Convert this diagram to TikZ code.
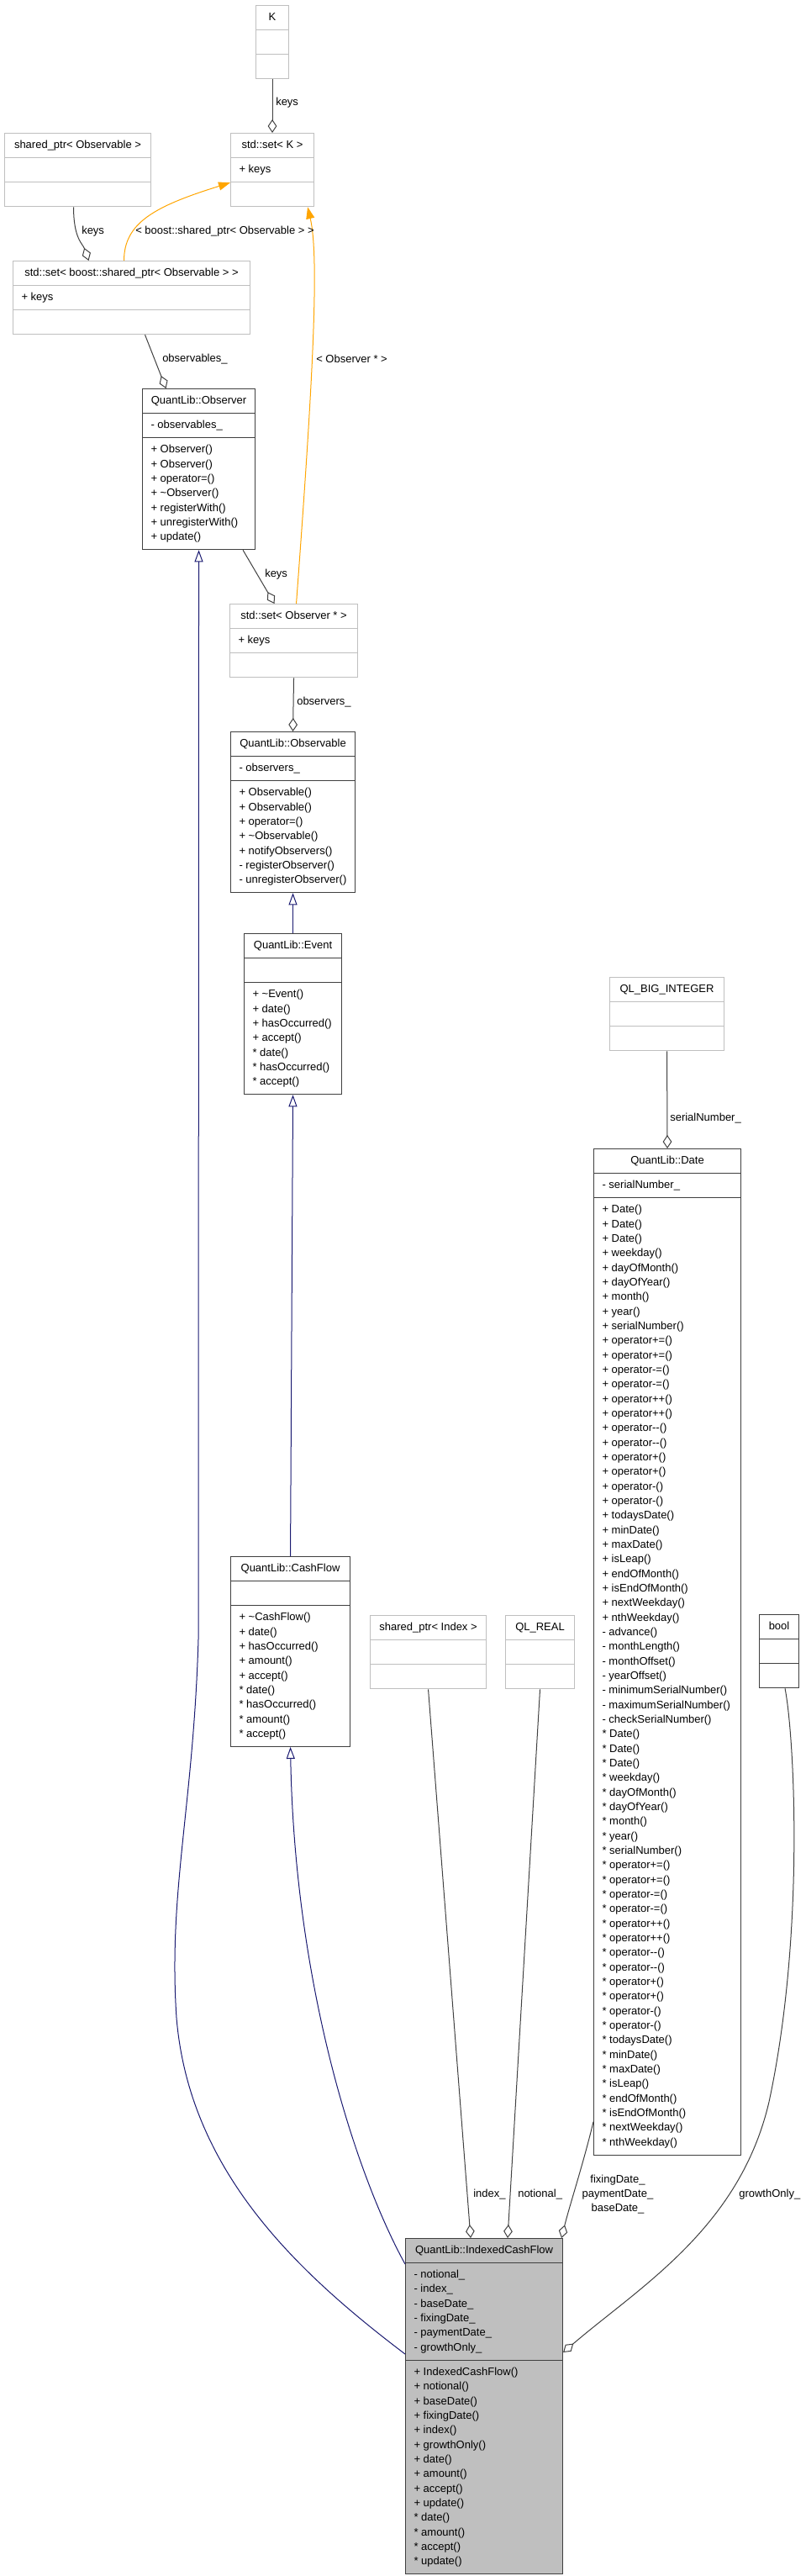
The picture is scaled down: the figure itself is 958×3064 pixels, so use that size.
\documentclass[tikz,border=0pt]{standalone}
\usepackage{fontspec}
\setmainfont{Liberation Sans}
\usetikzlibrary{shapes.multipart,arrows.meta}
\definecolor{edgegray}{HTML}{404040}
\definecolor{boxgray}{HTML}{BFBFBF}
\definecolor{inhblue}{HTML}{191970}
\definecolor{tmplorange}{HTML}{FFA500}
\newcommand{\rows}[1]{\begin{tabular}{@{}l@{}}#1\end{tabular}}
\tikzset{
  cls/.style={rectangle split, rectangle split parts=3,
    rectangle split part align={center,left,left}, anchor=north west,
    inner xsep=7.5pt, inner ysep=4pt, line width=0.8pt,
    font=\fontsize{9.75}{13}\selectfont, text=black},
  doccls/.style={cls, draw=edgegray},
  extcls/.style={cls, draw=boxgray},
  curcls/.style={doccls, fill=boxgray},
  boxw/.style={minimum width=#1*0.75pt},
  aggr/.style={draw=edgegray, line width=0.75pt, -{Diamond[open, length=12pt, width=8pt]}},
  inherit/.style={draw=inhblue, line width=0.75pt, {Triangle[open, length=10.5pt, width=7.5pt]}-},
  tmpl/.style={draw=tmplorange, line width=0.75pt, -{Triangle[length=10.5pt, width=7.5pt]}},
  lbl/.style={font=\fontsize{9.75}{13}\selectfont, inner sep=0pt, anchor=west},
}
\begin{document}
\begin{tikzpicture}[x=0.75pt,y=-0.75pt]
\useasboundingbox (0,0) rectangle (958,3064);
% classes
\node[extcls, boxw=39] (K) at (304,6) {\strut K\nodepart{two}\strut\nodepart{three}\strut};
\node[extcls, boxw=99] (setK) at (274,158) {\strut std::set< K >\nodepart{two}\strut + keys\nodepart{three}\strut};
\node[extcls, boxw=174] (spObs) at (5,158) {\strut shared\_ptr< Observable >\nodepart{two}\strut\nodepart{three}\strut};
\node[extcls, boxw=282] (setBoost) at (15,310) {\strut std::set< boost::shared\_ptr< Observable > >\nodepart{two}\strut + keys\nodepart{three}\strut};
\node[doccls, boxw=134] (Observer) at (169,462) {\strut QuantLib::Observer
  \nodepart{two}\strut - observables\_
  \nodepart{three}\rows{+ Observer()\\+ Observer()\\+ operator=()\\+ \textasciitilde Observer()\\+ registerWith()\\+ unregisterWith()\\+ update()}};
\node[extcls, boxw=152] (setObserver) at (273,718) {\strut std::set< Observer * >\nodepart{two}\strut + keys\nodepart{three}\strut};
\node[doccls, boxw=148] (Observable) at (274,870) {\strut QuantLib::Observable
  \nodepart{two}\strut - observers\_
  \nodepart{three}\rows{+ Observable()\\+ Observable()\\+ operator=()\\+ \textasciitilde Observable()\\+ notifyObservers()\\- registerObserver()\\- unregisterObserver()}};
\node[doccls, boxw=116] (Event) at (290,1110) {\strut QuantLib::Event
  \nodepart{two}\strut
  \nodepart{three}\rows{+ \textasciitilde Event()\\+ date()\\+ hasOccurred()\\+ accept()\\{*} date()\\{*} hasOccurred()\\{*} accept()}};
\node[extcls, boxw=136] (bigInt) at (725,1162) {\strut QL\_BIG\_INTEGER\nodepart{two}\strut\nodepart{three}\strut};
\node[doccls, boxw=175] (Date) at (706,1366) {\strut QuantLib::Date
  \nodepart{two}\strut - serialNumber\_
  \nodepart{three}\rows{+ Date()\\+ Date()\\+ Date()\\+ weekday()\\+ dayOfMonth()\\+ dayOfYear()\\+ month()\\+ year()\\+ serialNumber()\\
  + operator+=()\\+ operator+=()\\+ operator-=()\\+ operator-=()\\+ operator++()\\+ operator++()\\+ operator-{}-()\\+ operator-{}-()\\
  + operator+()\\+ operator+()\\+ operator-()\\+ operator-()\\+ todaysDate()\\+ minDate()\\+ maxDate()\\+ isLeap()\\+ endOfMonth()\\
  + isEndOfMonth()\\+ nextWeekday()\\+ nthWeekday()\\- advance()\\- monthLength()\\- monthOffset()\\- yearOffset()\\
  - minimumSerialNumber()\\- maximumSerialNumber()\\- checkSerialNumber()\\{*} Date()\\{*} Date()\\{*} Date()\\{*} weekday()\\
  {*} dayOfMonth()\\{*} dayOfYear()\\{*} month()\\{*} year()\\{*} serialNumber()\\{*} operator+=()\\{*} operator+=()\\{*} operator-=()\\
  {*} operator-=()\\{*} operator++()\\{*} operator++()\\{*} operator-{}-()\\{*} operator-{}-()\\{*} operator+()\\{*} operator+()\\
  {*} operator-()\\{*} operator-()\\{*} todaysDate()\\{*} minDate()\\{*} maxDate()\\{*} isLeap()\\{*} endOfMonth()\\{*} isEndOfMonth()\\
  {*} nextWeekday()\\{*} nthWeekday()}};
\node[doccls, boxw=142] (CashFlow) at (274,1851) {\strut QuantLib::CashFlow
  \nodepart{two}\strut
  \nodepart{three}\rows{+ \textasciitilde CashFlow()\\+ date()\\+ hasOccurred()\\+ amount()\\+ accept()\\{*} date()\\{*} hasOccurred()\\{*} amount()\\{*} accept()}};
\node[extcls, boxw=138] (spIndex) at (440,1921) {\strut shared\_ptr< Index >\nodepart{two}\strut\nodepart{three}\strut};
\node[extcls, boxw=82] (qlReal) at (601,1921) {\strut QL\_REAL\nodepart{two}\strut\nodepart{three}\strut};
\node[doccls, boxw=47] (bool) at (903,1920) {\strut bool\nodepart{two}\strut\nodepart{three}\strut};
\node[curcls, boxw=187] (ICF) at (482,2662) {\strut QuantLib::IndexedCashFlow
  \nodepart{two}\rows{- notional\_\\- index\_\\- baseDate\_\\- fixingDate\_\\- paymentDate\_\\- growthOnly\_}
  \nodepart{three}\rows{+ IndexedCashFlow()\\+ notional()\\+ baseDate()\\+ fixingDate()\\+ index()\\+ growthOnly()\\+ date()\\
  + amount()\\+ accept()\\+ update()\\{*} date()\\{*} amount()\\{*} accept()\\{*} update()}};
% template instances
\draw[tmpl] ([shift={(-9,0)}]setBoost.north) .. controls +(0,-45) and +(-90,28) .. ([shift={(0,-29)}]setK.south west);
\draw[tmpl] ([shift={(3,0)}]setObserver.north) .. controls +(20,-268) and +(14,60) .. ([shift={(-8,0)}]setK.south east);
\node[lbl] (l-boost) at (161,275) {< boost::shared\_ptr< Observable > >};
\node[lbl] (l-obsptr) at (376,427) {< Observer * >};
% members
\draw[aggr] (K.south) -- (setK.north);
\node[lbl] (l-keys1) at (328,122) {keys};
\draw[aggr] ([shift={(-5,0)}]spObs.south) .. controls +(0,38) and +(-7,-20) .. ([shift={(-51,0)}]setBoost.north);
\node[lbl] (l-keys2) at (97,275) {keys};
\draw[aggr] ([shift={(16,0)}]setBoost.south) -- ([shift={(-39,0)}]Observer.north);
\node[lbl] (l-observables) at (193,427) {observables\_};
\draw[aggr] ([shift={(-15,0)}]Observer.south east) -- ([shift={(-23,0)}]setObserver.north);
\node[lbl] (l-keys3) at (315,683) {keys};
\draw[aggr] (setObserver.south) -- (Observable.north);
\node[lbl] (l-observers) at (353,835) {observers\_};
\draw[aggr] (bigInt.south) -- (Date.north);
\node[lbl] (l-serial) at (797,1330) {serialNumber\_};
\draw[aggr] (spIndex.south) -- ([shift={(78,0)}]ICF.north west);
\node[lbl] (l-index) at (563,2610) {index\_};
\draw[aggr] (qlReal.south) -- ([shift={(122,0)}]ICF.north west);
\node[lbl] (l-notional) at (616,2610) {notional\_};
\draw[aggr] ([shift={(0,-40)}]Date.south west) .. controls +(-12,50) and +(10,-40) .. ([shift={(-2,0)}]ICF.north east);
\node[lbl, anchor=center, align=center] (l-dates) at (735,2610) {fixingDate\_\\paymentDate\_\\baseDate\_};
\draw[aggr] ([shift={(7,0)}]bool.south) .. controls +(11,56) and +(43,-200) .. (915,2500)
  .. controls +(-35,150) and +(91,-78) .. ([shift={(0,136)}]ICF.north east);
\node[lbl] (l-growth) at (879,2610) {growthOnly\_};
% inheritance
\draw[inherit] (Observable.south) -- (Event.north);
\draw[inherit] (Event.south) -- (CashFlow.north);
\draw[inherit] (CashFlow.south) .. controls +(5,276) and +(-62,-113) .. ([shift={(0,31)}]ICF.north west);
\draw[inherit] (Observer.south) -- (236,1950) .. controls (230,2150) and (200,2250) .. (210,2400)
  .. controls (225,2580) and (350,2700) .. ([shift={(0,138)}]ICF.north west);
\end{tikzpicture}
\end{document}
